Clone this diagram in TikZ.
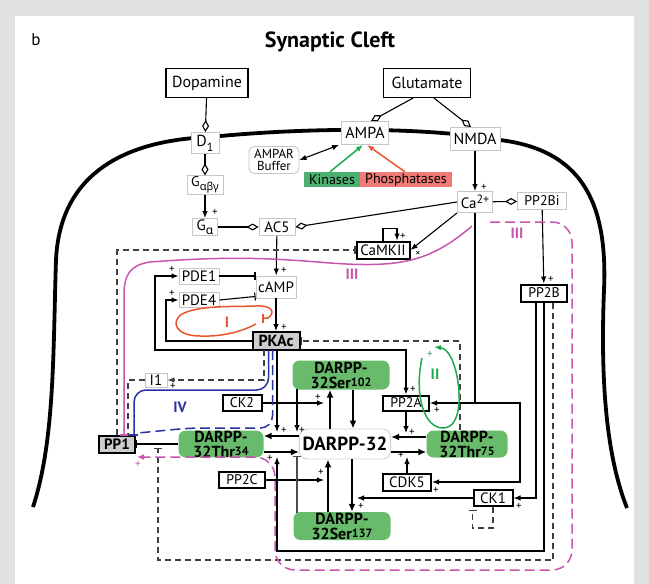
\documentclass[tikz,border=0pt]{standalone}
\usepackage{fontspec}
\setmainfont{PT Sans}
\newfontfamily\grk{Noto Sans}
\usetikzlibrary{arrows.meta,positioning,calc}
\newcommand\fsz[1]{\fontsize{#1}{#1}\selectfont}
\definecolor{frame}{RGB}{224,225,227}
\definecolor{dgreen}{RGB}{104,187,106}
\definecolor{kgreen}{RGB}{76,176,112}
\definecolor{psalmon}{RGB}{240,122,118}
\definecolor{grnl}{RGB}{30,170,80}
\definecolor{redl}{RGB}{235,85,45}
\definecolor{mag}{RGB}{200,85,175}
\definecolor{blu}{RGB}{40,50,160}
\definecolor{pkgray}{RGB}{205,205,205}

\begin{document}
\begin{tikzpicture}[x=1pt,y=-1pt,
  lbox/.style={draw=gray!45, line width=.9pt, fill=white, inner sep=1pt, font=\fsz{14}},
  kbox/.style={draw, line width=2pt, fill=white, inner sep=1pt, font=\fsz{14}},
  gbox/.style={fill=dgreen, rounded corners=7pt, inner sep=0pt, align=center, font=\bfseries\fontsize{16}{15}\selectfont},
  ln/.style={line width=1.1pt},
  arr/.style={ln, -{Latex[length=7pt,width=5.5pt]}},
  big/.style={line width=2.4pt, -{Latex[length=8pt,width=7pt]}},
  inh/.style={ln, -{Bar[width=8pt]}},
  dsh/.style={ln, dash pattern=on 6pt off 4pt, black!75},
  dia/.style={ln, -{Diamond[open,length=12pt,width=7pt]}},
  pl/.style={font=\fsz{11}, inner sep=0pt},
  roman/.style={font=\bfseries\fsz{15}},
]
\fill[frame] (0,0) rectangle (649,584);
\fill[white] (15,16) rectangle (634,584);
\useasboundingbox (0,0) rectangle (649,584);

% membrane
\draw[line width=3.8pt] (33,507) .. controls (55,440) and (53,350) .. (56,260)
  .. controls (60,170) and (130,140) .. (210,137)
  .. controls (300,128) and (420,126) .. (500,140)
  .. controls (580,150) and (608,200) .. (604,290)
  .. controls (600,390) and (608,460) .. (627,508);

\node[font=\fsz{17}] (b) at (36,40) {b};
\node[font=\bfseries\fsz{22}] (title) at (330,42) {Synaptic Cleft};

% receptors and second messengers
\node[draw, line width=1.2pt, fill=white, minimum width=82pt, minimum height=29pt, font=\fsz{16}] (dop) at (207,83) {Dopamine};
\node[draw, line width=1.2pt, fill=white, minimum width=87pt, minimum height=29pt, font=\fsz{16}] (glu) at (427,83) {Glutamate};
\node[lbox, minimum width=28pt, minimum height=21pt, font=\fsz{16}] (d1) at (205,143) {D\raisebox{-.6ex}{\fsz{12}1}};
\node[lbox, minimum width=47pt, minimum height=23pt, font=\fsz{16}] (ampa) at (365,133) {AMPA};
\node[lbox, minimum width=50pt, minimum height=23pt, font=\fsz{16}] (nmda) at (475,139) {NMDA};
\node[lbox, rounded corners=5pt, align=center, font=\fontsize{13}{12}\selectfont, minimum width=50pt, minimum height=27pt] (buf) at (274,160) {AMPAR\\Buffer};
\node[fill=kgreen, minimum width=56pt, minimum height=15pt, inner sep=0pt, font=\fsz{14}] (kin) at (332,179.5) {Kinases};
\node[fill=psalmon, minimum width=92pt, minimum height=15pt, inner sep=0pt, font=\fsz{14}] (pho) at (406,179.5) {Phosphatases};
\node[lbox, minimum width=36pt, minimum height=17pt] (gabg) at (205,185) {G\raisebox{-.5ex}{\grk\fsz{11}αβγ}};
\node[lbox, minimum width=25pt, minimum height=17pt, font=\fsz{15}] (ga) at (205,227) {G\raisebox{-.5ex}{\grk\fsz{12}α}};
\node[lbox, minimum width=36pt, minimum height=17pt, font=\fsz{15}] (ac5) at (277,227) {AC5};
\node[lbox, minimum width=35pt, minimum height=21pt, font=\fsz{15}] (ca) at (475,202) {Ca\raisebox{.7ex}{\fsz{12}2+}};
\node[lbox, minimum width=49pt, minimum height=17pt] (pp2bi) at (542,201) {PP2Bi};
\node[kbox, minimum width=53pt, minimum height=17pt, font=\fsz{15}] (camk) at (383,250) {CaMKII};
\node[lbox, minimum width=40pt, minimum height=16pt, font=\fsz{15}] (pde1) at (199,276) {PDE1};
\node[lbox, minimum width=40pt, minimum height=15pt, font=\fsz{15}] (pde4) at (199,300) {PDE4};
\node[lbox, minimum width=40pt, minimum height=22pt, font=\fsz{15}] (camp) at (276,287) {cAMP};
\node[kbox, fill=pkgray, minimum width=47pt, minimum height=18pt, font=\bfseries\fsz{16}] (pkac) at (276,341) {PKAc};
\node[kbox, minimum width=46pt, minimum height=17pt] (pp2b) at (544,293) {PP2B};
\node[lbox, minimum width=22pt, minimum height=14pt, font=\fsz{15}] (i1) at (156,380) {I1};

% DARPP-32 states and their enzymes
\node[kbox, minimum width=39pt, minimum height=16pt] (ck2) at (242,403) {CK2};
\node[kbox, minimum width=46pt, minimum height=15pt] (pp2a) at (406,403) {PP2A};
\node[kbox, fill=pkgray, minimum width=36pt, minimum height=17pt, font=\bfseries\fsz{15}] (pp1) at (117,444) {PP1};
\node[gbox, minimum width=85pt, minimum height=26pt] (thr34) at (221,444) {DARPP-\\32Thr\raisebox{.25ex}{\fsz{12}34}};
\node[draw=gray!35, line width=.9pt, rounded corners=8pt, fill=white, minimum width=80pt, minimum height=30pt, font=\bfseries\fsz{19}] (dp32) at (345,444) {DARPP-32};
\node[gbox, minimum width=81pt, minimum height=27pt] (thr75) at (467,444) {DARPP-\\32Thr\raisebox{.25ex}{\fsz{12}75}};
\node[gbox, minimum width=97pt, minimum height=29pt] (s102) at (341,375) {DARPP-\\32Ser\raisebox{.25ex}{\fsz{12}102}};
\node[gbox, minimum width=97pt, minimum height=28pt] (s137) at (342,526) {DARPP-\\32Ser\raisebox{.25ex}{\fsz{12}137}};
\node[kbox, minimum width=46pt, minimum height=16pt] (pp2c) at (242,480) {PP2C};
\node[kbox, minimum width=48pt, minimum height=17pt, font=\fsz{15}] (cdk5) at (407,482) {CDK5};
\node[kbox, minimum width=39pt, minimum height=16pt, font=\fsz{15}] (ck1) at (493,498) {CK1};

% top connectors
\draw[dia] (dop) -- (d1);
\draw[dia] (d1) -- (gabg);
\draw[dia] ($(glu.south)+(-14,0)$) -- ($(ampa.north)+(6,0)$);
\draw[dia] ($(glu.south)+(7,0)$) -- ($(nmda.north)+(-4,0)$);
\draw[ln, {Latex[length=7pt,width=5.5pt]}-{Latex[length=7pt,width=5.5pt]}] (buf.east) -- ($(ampa.south west)+(-2,0)$);
\draw[arr, grnl, line width=1.5pt] ($(kin.north)+(-2,0)$) -- ($(ampa.south)+(-2,0)$);
\draw[arr, redl, line width=1.5pt] ($(pho.north)+(-1,0)$) -- ($(ampa.south)+(2,0)$);
\draw[arr] (gabg) -- (ga);
\draw[dia] (ga) -- (ac5);
\draw[dia] (ca.west) -- (ac5.east);
\draw[arr] (nmda) -- (ca);
\draw[dia] (ca) -- (pp2bi);
\draw[arr] (ca.south west) -- (camk.east);
\draw[arr] (camk.north) -- ++(0,-12) -| ($(camk.north)+(14,0)$);
\draw[arr] (pp2bi) -- (pp2b);
\draw[arr] (ac5) -- (camp);
\draw[arr] (camp) -- (pkac);
\draw[inh] (pde1.east) -- (pde1.east -| camp.west);
\draw[inh] (pde4.east) -- ($(camp.south west)+(0,-2)$);
\draw[arr] (pkac.west) -| (166,300) -- (pde4.west);
\draw[arr] ($(pkac.south west)+(0,-1)$) -| (155,276) -- (pde1.west);
\draw[arr] ($(pkac.south east)+(0,-1)$) -| (pp2a.north);
\draw[dsh, -{Bar[width=8pt]}] ($(thr75.north)+(-7,0)$) |- (pkac.east);
\draw[arr] (ca.south) |- (pp2a.east);
\draw[arr] (ca.south |- pp2a.east) -- ++(45,0) |- (cdk5.east);

% phosphorylation arrows
\draw[big] ($(dp32.west)+(0,-8)$) -- ($(thr34.east)+(0,-8)$);
\draw[big] ($(thr34.east)+(0,8)$) -- ($(dp32.west)+(0,8)$);
\draw[big] ($(thr75.west)+(0,-7)$) -- ($(dp32.east)+(0,-7)$);
\draw[big] ($(dp32.east)+(0,8)$) -- ($(thr75.west)+(0,8)$);
\draw[big] ($(dp32.north)+(-15,0)$) -- ($(s102.south)+(-11,0)$);
\draw[big] ($(s102.south)+(12,0)$) -- ($(dp32.north)+(8,0)$);
\draw[big] ($(s137.north)+(-14,0)$) -- ($(dp32.south)+(-17,0)$);
\draw[big] ($(dp32.south)+(7,0)$) -- ($(s137.north)+(10,0)$);

% enzymes acting on the arrows
\draw[arr] ($(pkac.south)+(1,0)$) -- (277,432);
\draw[arr] (297,389) -- (297,432);
\draw[arr] (ck2) -- (324,403);
\draw[arr] (pp2a) -- (406,433);
\draw[arr] (cdk5) -- (407,457);
\draw[arr] (pp2c) -- (324,480);
\draw[arr] (ck1) -- (357,498);
\draw[arr] (pp2b.south) |- (277,551) -- (277,457);
\draw[arr] ($(pp2b.south)+(-8,0)$) |- (ck1.east);
\draw[dsh, -{Bar[width=8pt]}] ($(pp2b.south)+(9,0)$) |- (158,560) -- (158,448);
\draw[ln, black!70, -{Bar[width=8pt]}] (297,513) -- (297,456);
\draw[dsh, -{Bar[width=8pt]}] (ck1.south) -- ++(0,21) -| ($(ck1.south west)+(0,3)$);
\draw[dsh, -{Latex[length=7pt,width=5.5pt]}] (264,350) |- (i1.east);
\draw[dsh, -{Bar[width=8pt]}] (i1.west) -| (128,435.5);
\draw[dsh, -{Bar[width=8pt]}] (pp1.north) |- (camk.west);
\draw[inh] (thr34.west) -- (pp1.east);

% loops I-IV
\draw[mag, line width=1.5pt, -{Bar[width=8pt]}] (472,226) .. controls (430,262) and (400,268) .. (330,263)
  .. controls (270,258) and (230,256) .. (150,262) .. controls (130,265) and (124,275) .. (124,295) -- (124,435.5);
\draw[mag, line width=1.5pt, dash pattern=on 10pt off 5pt, rounded corners=20pt, -{Latex[length=7pt,width=6pt]}]
  (490,222) -- (572,222) -- (572,570) -- (275,570) -- (275,457) -- (137,457);
\draw[blu, line width=1.5pt, rounded corners=12pt, -{Bar[width=8pt]}] (268.5,350) -- (268.5,390) -- (134,390) -- (134,435.5);
\draw[blu, line width=1.5pt, dash pattern=on 10pt off 5pt, rounded corners=12pt] (272.5,350) -- (272.5,428) -- (190,428) -- (138,433);
\draw[grnl, line width=1.5pt, -{Latex[length=7pt,width=5.5pt]}] (422,358) .. controls (414,395) and (424,428) .. (443,428)
  .. controls (463,428) and (461,388) .. (455,368) .. controls (451,354) and (445,348) .. (434,347);
\draw[redl, line width=1.5pt, {Bar[width=9pt]}-] (262,318) -- (268,318) .. controls (276,312) and (272,305) .. (255,306)
  .. controls (230,307) and (200,305) .. (182,314) .. controls (170,322) and (176,336) .. (200,336)
  .. controls (225,337) and (245,330) .. (256,324);

\node[roman, text=redl] (lI) at (227,322) {I};
\node[roman, text=grnl] (lII) at (435,374) {II};
\node[roman, text=mag] (lIIIa) at (352,274) {III};
\node[roman, text=mag] (lIIIb) at (517,233) {III};
\node[roman, text=blu] (lIV) at (180,407) {IV};
\node[font=\fsz{10}] (ex) at (418,254) {×};

\foreach \x/\y [count=\i] in {484/187, 215/212, 284/270, 284/327, 403/236, 551/279,
  172/269, 172/293, 413/389, 437/410, 412/432, 436/490, 401/455, 318/397, 321/472,
  361/506, 519/506, 284/430, 302/430, 270/458, 173/386}
  \node[pl] (p\i) at (\x,\y) {+};
\node[pl, text=mag] (pm) at (138,464) {+};
\node[pl, text=grnl] (pg) at (430,354) {+};
\end{tikzpicture}
\end{document}
